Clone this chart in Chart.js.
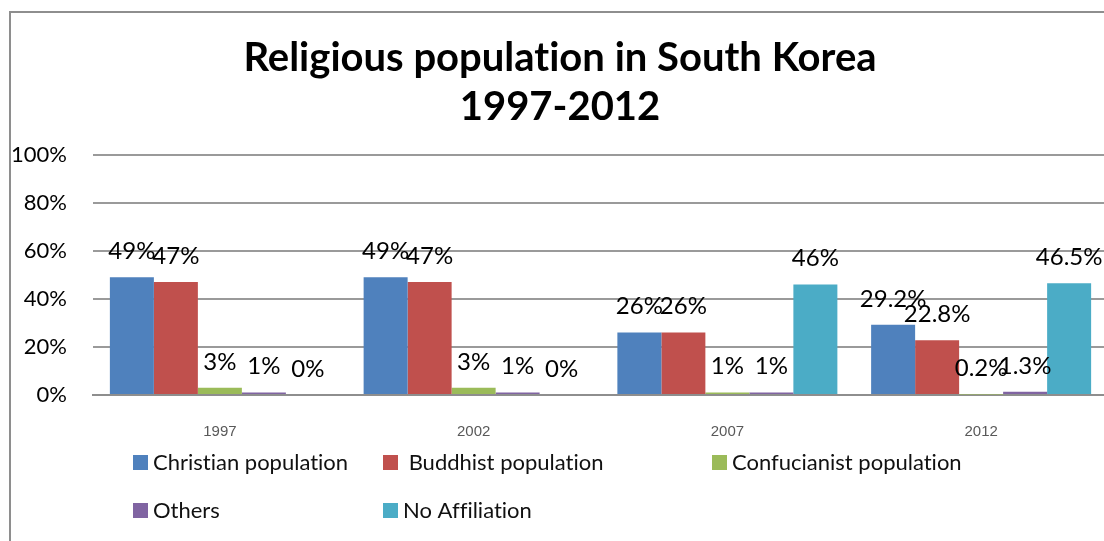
<!DOCTYPE html>
<html>
<head>
<meta charset="utf-8">
<script src="https://cdn.jsdelivr.net/npm/chart.js@4.4.0/dist/chart.umd.min.js"></script>
<style>
  html, body { margin: 0; padding: 0; background: #fff; overflow: hidden; }
  #wrap { position: relative; width: 1104px; height: 541px; overflow: hidden; }
  #frame { position: absolute; left: 9px; top: 11px; width: 1200px; height: 700px; border: 2px solid #8e8e8e; }
  #c { position: absolute; left: 0; top: 0; }
</style>
</head>
<body>
<div id="wrap">
  <div id="frame"></div>
  <canvas id="c" width="1108" height="541"></canvas>
</div>
<script>
// years on the x axis
const years = ["1997", "2002", "2007", "2012"];

// share of population, percent
const christian = [49, 49, 26, 29.2];
const buddhist = [47, 47, 26, 22.8];
const confucianist = [3, 3, 1, 0.2];
const others = [1, 1, 1, 1.3];
const noAffiliation = [0, 0, 46, 46.5];

const seriesNames = ["Christian population", "Buddhist population", "Confucianist population", "Others", "No Affiliation"];
const seriesColors = ["#4f81bd", "#c0504d", "#9bbb59", "#8064a2", "#4bacc6"];
const yTicks = [0, 20, 40, 60, 80, 100];

const FONT = "Lato, 'Open Sans', sans-serif";

// Lato joins "ti" / "fi"; the original font does not, so break the ligatures
const noLig = s => s.replace(/t(?=i)/g, "t\u200C").replace(/f(?=[fil])/g, "f\u200C");

// value labels above each bar
const barLabels = {
  id: "barLabels",
  afterDatasetsDraw(chart) {
    const ctx = chart.ctx;
    ctx.save();
    ctx.font = "24px " + FONT;
    ctx.fillStyle = "#000";
    ctx.textAlign = "center";
    ctx.textBaseline = "middle";
    chart.data.datasets.forEach((ds, i) => {
      chart.getDatasetMeta(i).data.forEach((bar, j) => {
        ctx.fillText(ds.data[j] + "%", bar.x, bar.y - 26);
      });
    });
    ctx.restore();
  }
};

// legend laid out in two rows like the original
const gridLegend = {
  id: "gridLegend",
  afterDraw(chart) {
    const ctx = chart.ctx;
    const cols = [133, 383, 712];
    const rows = [463, 511];
    ctx.save();
    ctx.font = "22px " + FONT;
    ctx.textBaseline = "middle";
    ctx.textAlign = "left";
    chart.data.datasets.forEach((ds, i) => {
      const x = cols[i % 3];
      const y = rows[Math.floor(i / 3)];
      ctx.fillStyle = ds.backgroundColor;
      ctx.fillRect(x, y - 8, 15, 15);
      ctx.fillStyle = "#111";
      ctx.fillText((i === 1 ? " " : "") + noLig(ds.label), x + 20, y);
    });
    ctx.restore();
  }
};

const seriesData = [christian, buddhist, confucianist, others, noAffiliation];

new Chart(document.getElementById("c"), {
  type: "bar",
  data: {
    labels: years,
    datasets: seriesData.map((d, i) => ({
      label: seriesNames[i],
      data: d,
      backgroundColor: seriesColors[i],
      borderWidth: 0,
      categoryPercentage: 0.867,
      barPercentage: 1
    }))
  },
  options: {
    responsive: false,
    animation: false,
    layout: { padding: { top: 0, right: 0, bottom: 72, left: 12 } },
    plugins: {
      legend: { display: false },
      tooltip: { enabled: false },
      title: {
        display: true,
        text: [noLig("Religious population in South Korea"), "1997-2012"],
        color: "#000",
        font: { family: FONT, size: 40, weight: "bold", lineHeight: 1.22 },
        padding: { top: 34, bottom: 23 }
      }
    },
    scales: {
      x: {
        grid: { display: false, drawTicks: false },
        border: { display: true, color: "#8e8e8e", width: 2 },
        ticks: { color: "#595959", font: { family: "'Liberation Sans', Arial, sans-serif", size: 15 }, padding: 28 }
      },
      y: {
        min: 0,
        max: 100,
        afterFit(scale) { scale.width = 81; },
        afterBuildTicks(scale) { scale.ticks = yTicks.map(v => ({ value: v })); },
        grid: { color: "#9a9a9a", lineWidth: 2, drawTicks: false },
        border: { display: false },
        ticks: {
          color: "#000",
          font: { family: FONT, size: 22 },
          padding: 26,
          callback: v => v + "%"
        }
      }
    }
  },
  plugins: [barLabels, gridLegend]
});
</script>
</body>
</html>
